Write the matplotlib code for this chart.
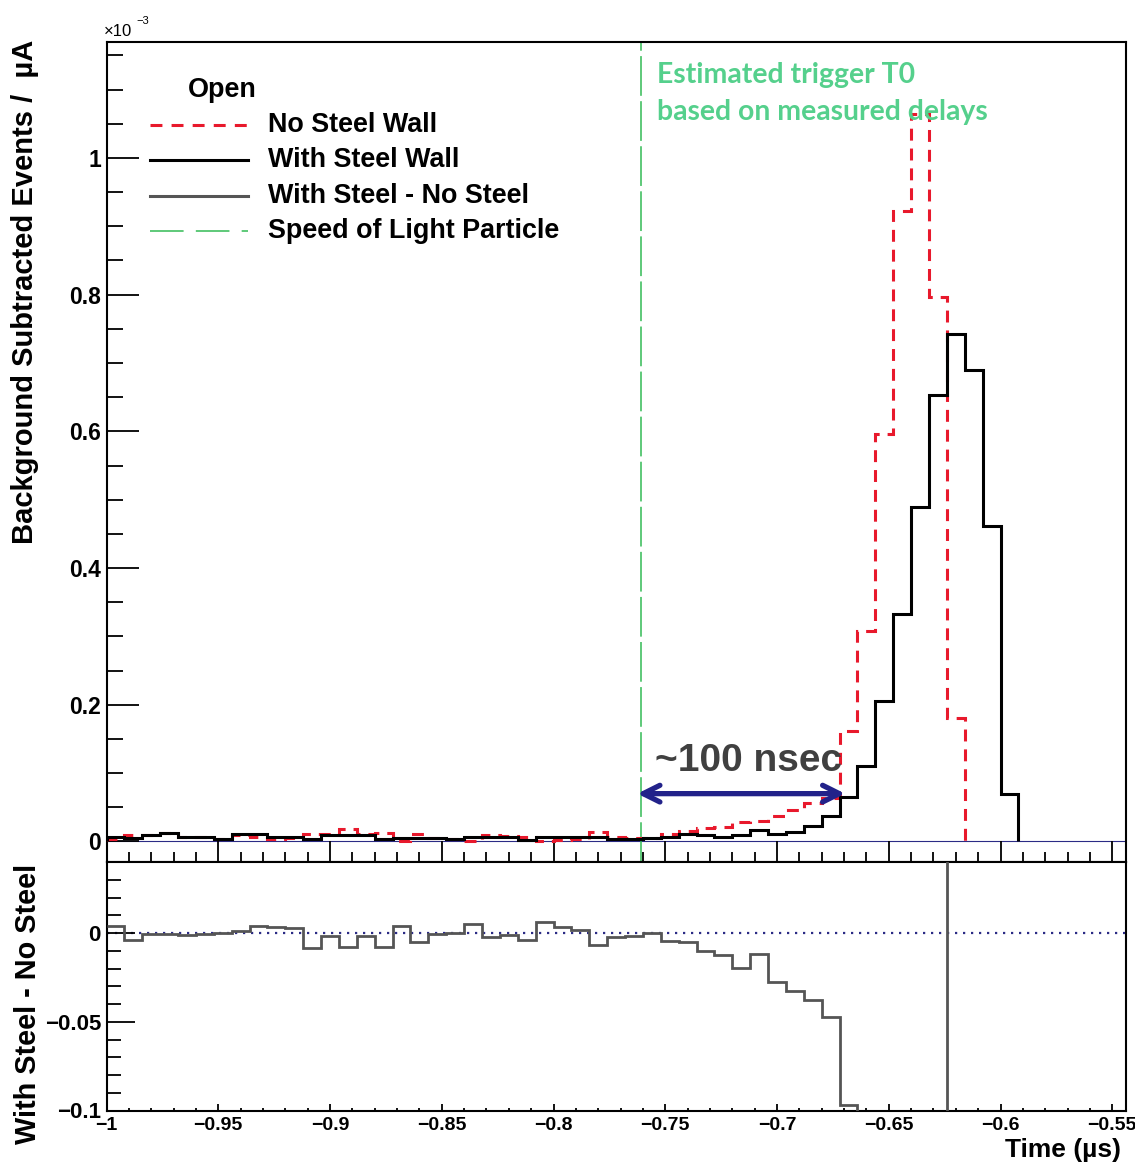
import numpy as np
import matplotlib
matplotlib.use("Agg")
import matplotlib.pyplot as plt
from matplotlib.lines import Line2D
from matplotlib.ticker import MultipleLocator, FuncFormatter

# ---------------- data (units of 1e-3 per uA) ----------------
bin_start = -1.0
bin_width = 0.008  # microseconds

no_steel = [0.003, 0.009, 0.010, 0.0125, 0.007, 0.0065, 0.004, 0.010, 0.007, 0.003,
            0.0044, 0.0116, 0.0105, 0.0177, 0.0105, 0.0117, 0.0012, 0.0103, 0.0055, 0.004,
            0.001, 0.0094, 0.008, 0.0062, 0.001, 0.0024, 0.0043, 0.0138, 0.0064, 0.0055,
            0.005, 0.0103, 0.016, 0.020, 0.021, 0.028, 0.030, 0.038, 0.046, 0.056,
            0.063, 0.162, 0.308, 0.596, 0.922, 1.064, 0.796, 0.180]

with_steel = [0.007, 0.005, 0.009, 0.012, 0.006, 0.006, 0.004, 0.011, 0.011, 0.006,
              0.007, 0.003, 0.009, 0.010, 0.009, 0.004, 0.005, 0.005, 0.005, 0.004,
              0.006, 0.007, 0.007, 0.0024, 0.007, 0.006, 0.006, 0.007, 0.004, 0.004,
              0.005, 0.006, 0.011, 0.0097, 0.007, 0.0097, 0.0175, 0.011, 0.0146, 0.023,
              0.037, 0.065, 0.111, 0.206, 0.333, 0.490, 0.653, 0.742, 0.690, 0.461,
              0.070]

difference = [0.004, -0.004, -0.0006, -0.0005, -0.001, -0.0005, -0.0002, 0.001, 0.0038, 0.0032,
              0.0026, -0.0086, -0.0015, -0.0077, -0.0015, -0.0077, 0.0038, -0.0053, -0.0005, 0.0,
              0.005, -0.0024, -0.001, -0.0038, 0.006, 0.0036, 0.0017, -0.0068, -0.0024, -0.0015,
              0.0, -0.0043, -0.0053, -0.0103, -0.0122, -0.0197, -0.0118, -0.0274, -0.0328, -0.0377,
              -0.0475, -0.097, -0.197, -0.390, -0.589, -0.574, -0.143, 0.562]

light_time = -0.761

legend_labels = ["No Steel Wall", "With Steel Wall", "With Steel - No Steel",
                 "Speed of Light Particle"]


def edges_for(vals):
    n = len(vals)
    return bin_start + bin_width * np.arange(n + 1)


# ---------------- style ----------------
plt.rcParams["font.family"] = ["Liberation Sans", "DejaVu Sans"]
plt.rcParams["font.weight"] = "bold"
plt.rcParams["axes.linewidth"] = 1.5

W, H = 1135, 1165
fig = plt.figure(figsize=(W / 100, H / 100), dpi=100)


def fx(px):
    return px / W


def fy(py):
    return 1 - py / H


left, right = 106.5, 1125.7
ax1 = fig.add_axes([fx(left), fy(862), fx(right) - fx(left), fy(41.7) - fy(862)])
ax2 = fig.add_axes([fx(left), fy(1110.5), fx(right) - fx(left), fy(862) - fy(1110.5)])

RED = "#e8192c"
GREEN = "#33bb55"
GRAY = "#555555"
NAVY = "#2b2b85"

# ---------------- top panel ----------------
ax1.axhline(0, color=NAVY, lw=0.8, zorder=1)
ax1.stairs(no_steel, edges_for(no_steel), baseline=0, color=RED, lw=2.2,
           linestyle=(0, (3.9, 2.6)), zorder=3)
ax1.stairs(with_steel, edges_for(with_steel), baseline=0, color="black", lw=2.2, zorder=4)
ax1.axvline(light_time, color=GREEN, lw=1.1, linestyle=(0, (26, 3.5)), zorder=2)

ax1.set_xlim(-1.0, -0.544)
ax1.set_ylim(-0.03, 1.17)
ax1.xaxis.set_major_locator(MultipleLocator(0.05))
ax1.xaxis.set_minor_locator(MultipleLocator(0.01))
ax1.yaxis.set_major_locator(MultipleLocator(0.2))
ax1.yaxis.set_minor_locator(MultipleLocator(0.05))
ax1.tick_params(axis="x", which="both", direction="in", bottom=True, top=False,
                labelbottom=False, width=1.3)
ax1.tick_params(axis="x", which="major", length=15)
ax1.tick_params(axis="x", which="minor", length=7.5)
ax1.tick_params(axis="y", which="both", direction="in", left=True, right=False,
                width=1.3, labelsize=16.5, pad=4)
ax1.tick_params(axis="y", which="major", length=23)
ax1.tick_params(axis="y", which="minor", length=11.5)
ax1.yaxis.set_major_formatter(FuncFormatter(lambda v, p: ("%g" % round(v, 3)).replace("-", "\u2212")))

# annotation arrow and text
ax1.annotate("", xy=(-0.7625, 0.070), xytext=(-0.6695, 0.070),
             arrowprops=dict(arrowstyle="<->", color="#22228a", lw=3.8,
                             mutation_scale=30, shrinkA=0, shrinkB=0), zorder=6)
ax1.text(-0.7545, 0.118, "~100 nsec", ha="left", va="center", fontsize=28,
         color="#404040", weight="bold", zorder=6)

# ---------------- bottom panel ----------------
ax2.axhline(0, color=NAVY, lw=1.6, linestyle=(0, (1, 2.6)), zorder=1)
ax2.stairs(difference, edges_for(difference), baseline=None, color=GRAY, lw=2.0, zorder=3)
ax2.set_xlim(-1.0, -0.544)
ax2.set_ylim(-0.1, 0.04)
ax2.xaxis.set_major_locator(MultipleLocator(0.05))
ax2.xaxis.set_minor_locator(MultipleLocator(0.01))
ax2.yaxis.set_major_locator(MultipleLocator(0.05))
ax2.yaxis.set_minor_locator(MultipleLocator(0.01))
ax2.tick_params(axis="x", which="both", direction="in", bottom=True, top=False,
                width=1.3, labelsize=14, pad=5)
ax2.tick_params(axis="x", which="major", length=5)
ax2.tick_params(axis="x", which="minor", length=2.5)
ax2.tick_params(axis="y", which="both", direction="in", left=True, right=False,
                width=1.3, labelsize=16, pad=4)
ax2.tick_params(axis="y", which="major", length=20)
ax2.tick_params(axis="y", which="minor", length=10)
fmt = FuncFormatter(lambda v, p: ("%g" % round(v, 4)).replace("-", "\u2212"))
ax2.xaxis.set_major_formatter(fmt)
ax2.yaxis.set_major_formatter(fmt)

# ---------------- axis titles ----------------
fig.text(fx(25), fy(40), "Background Subtracted Events /  \u00b5A", rotation=90,
         ha="center", va="top", fontsize=21, weight="bold")
fig.text(fx(28), fy(864), "With Steel - No Steel", rotation=90,
         ha="center", va="top", fontsize=20.8, weight="bold")
fig.text(fx(1121), fy(1150), "Time (\u00b5s)", ha="right", va="center",
         fontsize=19, weight="bold")
fig.text(fx(104), fy(32), "\u00d710", ha="left", va="center", fontsize=12, weight="normal")
fig.text(fx(136), fy(21), "\u22123", ha="left", va="center", fontsize=8, weight="normal")

# ---------------- legend ----------------
fig.text(fx(188), fy(90), "Open", ha="left", va="center", fontsize=19.4, weight="bold")
leg_styles = [dict(color=RED, lw=2.2, linestyle=(0, (3.9, 3.0))),
              dict(color="black", lw=2.2, linestyle="-"),
              dict(color=GRAY, lw=2.2, linestyle="-"),
              dict(color=GREEN, lw=1.1, linestyle=(0, (22, 8)))]
rows = [125, 160, 196, 231]
for lab, st, ry in zip(legend_labels, leg_styles, rows):
    fig.add_artist(Line2D([fx(150), fx(248)], [fy(ry), fy(ry)], transform=fig.transFigure, **st))
    fig.text(fx(268), fy(ry), lab, ha="left", va="center", fontsize=19.4, weight="bold")

# ---------------- green note ----------------
fig.text(fx(657), fy(75), "Estimated trigger T0", ha="left", va="center",
         fontsize=20.4, family=["Lato", "DejaVu Sans"], weight="bold", color="#55d08c")
fig.text(fx(657), fy(112), "based on measured delays", ha="left", va="center",
         fontsize=20.4, family=["Lato", "DejaVu Sans"], weight="bold", color="#55d08c")

fig.savefig("out.png", dpi=100)
